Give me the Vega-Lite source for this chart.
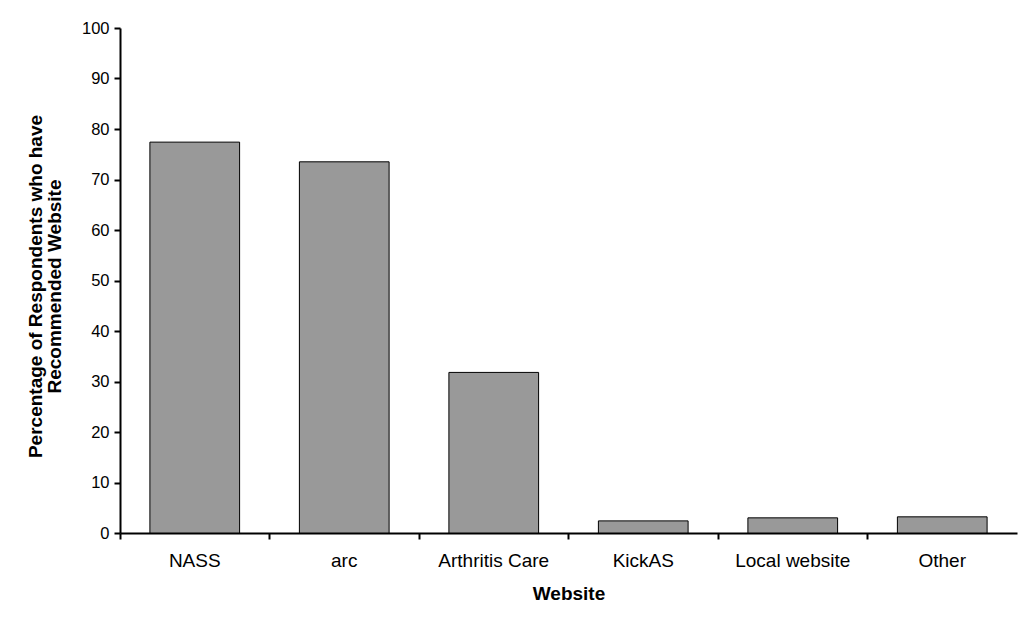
{
  "$schema": "https://vega.github.io/schema/vega-lite/v6.json",
  "width": 897,
  "height": 505,
  "autosize": "none",
  "padding": {"left": 120, "top": 28, "right": 4, "bottom": 86},
  "background": "white",
  "config": {
    "view": {"stroke": null},
    "font": "Liberation Sans",
    "axis": {
      "domainColor": "black",
      "domainWidth": 2,
      "tickColor": "black",
      "tickWidth": 2,
      "labelColor": "black",
      "titleColor": "black",
      "labelFont": "Liberation Sans",
      "titleFont": "Liberation Sans",
      "titleFontSize": 19,
      "titleFontWeight": "bold",
      "grid": false
    }
  },
  "data": {
    "values": [
      {"website": "NASS", "pct": 77.4},
      {"website": "arc", "pct": 73.5},
      {"website": "Arthritis Care", "pct": 31.8},
      {"website": "KickAS", "pct": 2.4},
      {"website": "Local website", "pct": 3.0},
      {"website": "Other", "pct": 3.2}
    ]
  },
  "mark": {"type": "bar", "fill": "#999999", "stroke": "black", "strokeWidth": 1, "width": {"band": 0.6}},
  "encoding": {
    "x": {
      "field": "website",
      "type": "nominal",
      "sort": null,
      "title": "Website",
      "scale": {"paddingInner": 0, "paddingOuter": 0},
      "axis": {
        "labelAngle": 0,
        "labelFontSize": 19,
        "bandPosition": 0,
        "tickSize": 6,
        "labelPadding": 12,
        "titlePadding": 14
      }
    },
    "y": {
      "field": "pct",
      "type": "quantitative",
      "title": ["Percentage of Respondents who have", "Recommended Website"],
      "scale": {"domain": [0, 100], "nice": false},
      "axis": {
        "values": [0, 10, 20, 30, 40, 50, 60, 70, 80, 90, 100],
        "labelFontSize": 16.5,
        "tickSize": 6,
        "labelPadding": 5,
        "titlePadding": 17,
        "titleLineHeight": 19,
        "titleY": 258
      }
    }
  }
}
